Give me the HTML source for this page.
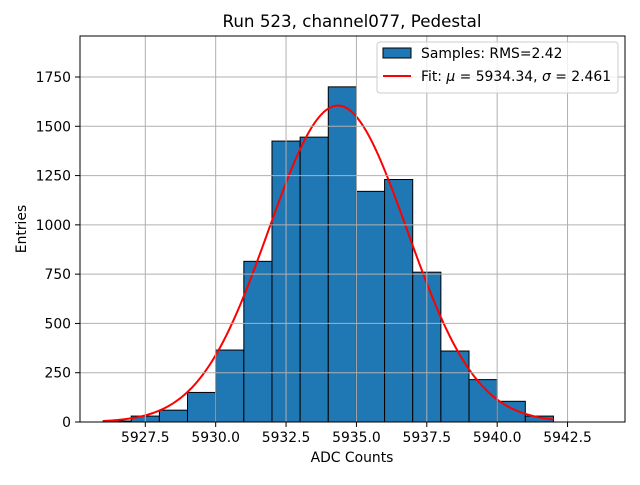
<!DOCTYPE html>
<html><head><meta charset="utf-8"><style>
body{margin:0;background:#fff;}
svg text{font-family:"DejaVu Sans","Liberation Sans",sans-serif;}
</style></head><body>
<svg id="chart" width="640" height="480" xmlns="http://www.w3.org/2000/svg">
<rect width="640" height="480" fill="#fff"/>
<defs><clipPath id="pc"><rect x="80" y="36" width="545" height="386"/></clipPath></defs>
<g id="bars"></g>
<path id="fit" fill="none" stroke="#ff0000" stroke-width="2" clip-path="url(#pc)"/>
<g id="grid"></g>
<rect x="80" y="36" width="545" height="386" fill="none" stroke="#000" stroke-width="1"/>
<g id="xt"></g>
<g id="yt"></g>
<text x="352" y="27" font-size="16.7" text-anchor="middle">Run 523, channel077, Pedestal</text>
<text x="352" y="462" font-size="13.9" text-anchor="middle">ADC Counts</text>
<text x="26" y="229" font-size="13.9" text-anchor="middle" transform="rotate(-90 26 229)">Entries</text>
<g>
<rect x="377" y="42" width="241" height="51" rx="3" fill="#fff" fill-opacity="0.8" stroke="#ccc" stroke-width="1"/>
<rect x="383" y="48" width="28" height="10" fill="#1f77b4" stroke="#000" stroke-width="1"/>
<text x="421" y="58" font-size="13.9">Samples: RMS=2.42</text>
<line x1="383" y1="76" x2="411" y2="76" stroke="#ff0000" stroke-width="2"/>
<text x="421" y="81" font-size="13.9">Fit: <tspan font-style="italic">μ</tspan> = 5934.34, <tspan font-style="italic">σ</tspan> = 2.461</text>
</g>
</svg>
<script>
const counts=[5,30,60,150,365,815,1425,1445,1700,1170,1230,760,360,215,105,30];
const binStart=5926, binEnd=5942;
const fitMu=5934.34, fitSigma=2.461, fitAmp=1605;
const xTicks=[5927.5,5930.0,5932.5,5935.0,5937.5,5940.0,5942.5];
const yTicks=[0,250,500,750,1000,1250,1500,1750];
const NS="http://www.w3.org/2000/svg";
const X=v=>145.3+(v-5927.5)*28.15;
const Y=v=>422-v*0.19714;
function mk(t,a,p){const e=document.createElementNS(NS,t);for(const k in a)e.setAttribute(k,a[k]);p.appendChild(e);return e;}
const bw=(binEnd-binStart)/counts.length;
const bars=document.getElementById('bars');
counts.forEach((c,i)=>{const x0=X(binStart+i*bw),x1=X(binStart+(i+1)*bw);
 const r=mk('rect',{x:x0,y:Y(c),width:x1-x0,height:Y(0)-Y(c),fill:'#1f77b4',stroke:'#000','stroke-width':1},bars);
 
 });
let d='';for(let i=0;i<=200;i++){const v=binStart+i*((binEnd-binStart)/200);const y=fitAmp*Math.exp(-0.5*((v-fitMu)/fitSigma)**2);d+=(i?'L':'M')+X(v).toFixed(2)+','+Y(y).toFixed(2);}
document.getElementById('fit').setAttribute('d',d);
const g=document.getElementById('grid'),xt=document.getElementById('xt'),yt=document.getElementById('yt');
xTicks.forEach(t=>{const x=X(t);mk('line',{x1:x,x2:x,y1:36,y2:422,stroke:'#b0b0b0','stroke-width':1},g);
 mk('line',{x1:x,x2:x,y1:422,y2:427,stroke:'#000','stroke-width':1},xt);
 const tx=mk('text',{x:x,y:442,'font-size':13.9,'text-anchor':'middle'},xt);tx.textContent=t.toFixed(1);
 
 });
yTicks.forEach(t=>{const y=Y(t);mk('line',{x1:80,x2:625,y1:y,y2:y,stroke:'#b0b0b0','stroke-width':1},g);
 mk('line',{x1:75,x2:80,y1:y,y2:y,stroke:'#000','stroke-width':1},yt);
 const tx=mk('text',{x:71,y:y+5,'font-size':13.9,'text-anchor':'end'},yt);tx.textContent=t;
 
 });
</script>
</body></html>
